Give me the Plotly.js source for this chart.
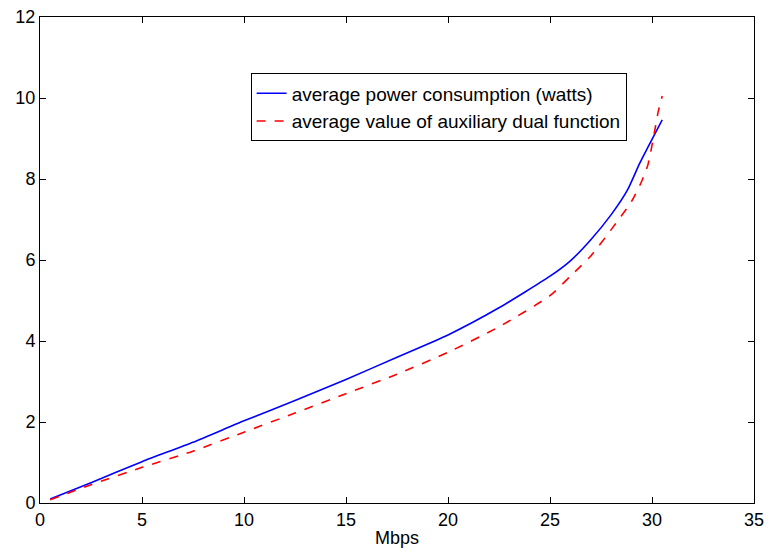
<!DOCTYPE html>
<html>
<head>
<meta charset="utf-8">
<script src="https://cdn.plot.ly/plotly-3.0.1.min.js"></script>
<style>html,body{margin:0;padding:0;background:#fff}#chart{width:770px;height:552px}</style>
</head>
<body>
<div id="chart"></div>
<script>
var powerX = [0.5, 2.5, 5, 7.5, 10, 12.5, 15, 17.5, 20, 22.5, 25, 26, 27, 28, 28.8, 29.4, 30, 30.5];
var powerY = [0.1, 0.5, 1.02, 1.5, 2.03, 2.53, 3.05, 3.6, 4.15, 4.82, 5.6, 5.98, 6.5, 7.12, 7.73, 8.39, 8.98, 9.46];
var dualX = [0.5, 2.5, 5, 7.5, 10, 12.5, 15, 17.5, 20, 22.5, 25, 26, 27, 28, 29, 29.5, 29.8, 30.1, 30.3, 30.5];
var dualY = [0.08, 0.45, 0.88, 1.28, 1.75, 2.22, 2.7, 3.18, 3.72, 4.35, 5.12, 5.6, 6.1, 6.75, 7.45, 7.95, 8.35, 9.1, 9.65, 10.05];
var seriesNames = ['average power consumption (watts)', 'average value of auxiliary dual function'];
var xTicks = [0, 5, 10, 15, 20, 25, 30, 35];
var yTicks = [0, 2, 4, 6, 8, 10, 12];

var traces = [
  {x: powerX, y: powerY, mode: 'lines', name: seriesNames[0], line: {color: '#0000ff', width: 1.6, shape: 'spline', smoothing: 0.6}},
  {x: dualX, y: dualY, mode: 'lines', name: seriesNames[1], line: {color: '#ff0000', width: 1.6, dash: 'dash', shape: 'spline', smoothing: 0.6}}
];
var axisCommon = {
  showgrid: false, zeroline: false, showline: true, linecolor: '#000', linewidth: 1,
  mirror: 'ticks', ticks: 'inside', ticklen: 6, tickcolor: '#000',
  tickfont: {family: 'Liberation Sans, Arial, sans-serif', size: 18, color: '#000'}
};
var layout = {
  width: 770, height: 552,
  margin: {l: 40, r: 16, t: 17, b: 49},
  paper_bgcolor: '#fff', plot_bgcolor: '#fff',
  font: {family: 'Liberation Sans, Arial, sans-serif', color: '#000'},
  xaxis: Object.assign({}, axisCommon, {range: [0, 35], tickvals: xTicks, ticktext: xTicks.map(String),
    title: {text: 'Mbps', font: {size: 18, color: '#000'}, standoff: 2}}),
  yaxis: Object.assign({}, axisCommon, {range: [0, 12], tickvals: yTicks, ticktext: yTicks.map(String)}),
  showlegend: true,
  legend: {x: 0.295, y: 0.884, xanchor: 'left', yanchor: 'top', bordercolor: '#000', borderwidth: 1,
    bgcolor: '#fff', font: {size: 19, color: '#000'}, tracegroupgap: 0, itemwidth: 30}
};
Plotly.newPlot('chart', traces, layout, {displayModeBar: false, staticPlot: true});
</script>
</body>
</html>
